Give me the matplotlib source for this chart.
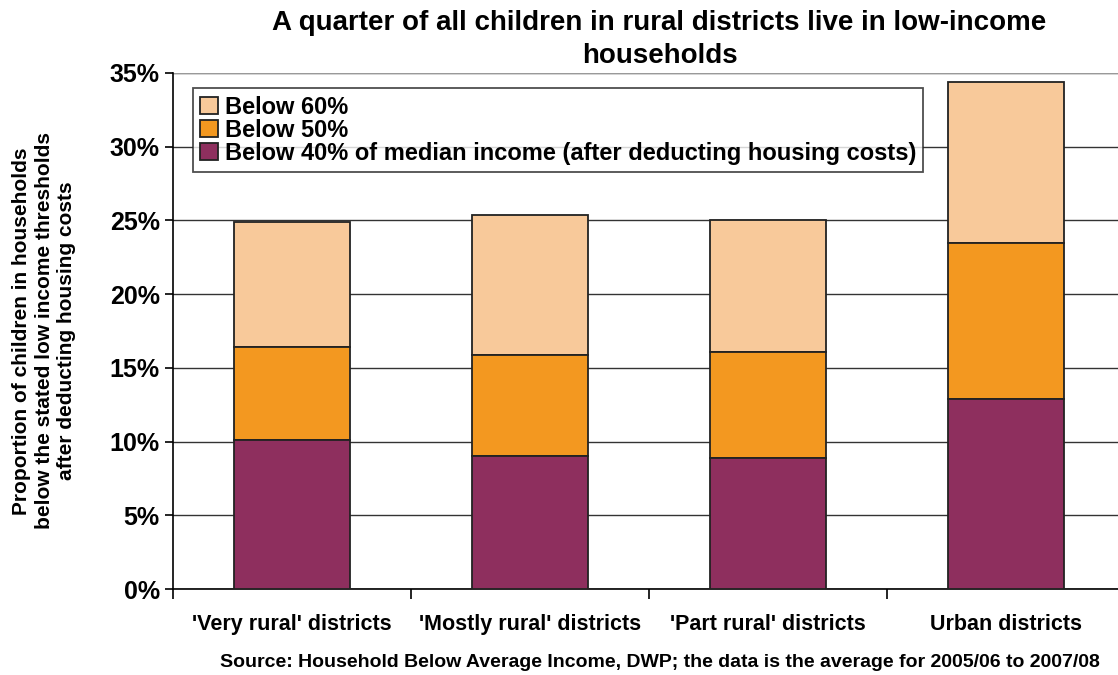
import numpy as np
import matplotlib.pyplot as plt
from matplotlib.ticker import FixedLocator, PercentFormatter

plt.rcParams['font.family'] = ['Liberation Sans', 'DejaVu Sans']
plt.rcParams['font.weight'] = 'bold'

''' --->> Data <<--- '''
districts = ["'Very rural' districts", "'Mostly rural' districts",
             "'Part rural' districts", "Urban districts"]
below_40 = [10.1, 9.0, 8.9, 12.9]
below_50 = [16.4, 15.9, 16.1, 23.5]
below_60 = [24.9, 25.4, 25.0, 34.4]
labels = ['Below 60%', 'Below 50%',
          'Below 40% of median income (after deducting housing costs)']
colors = ['#F8C99A', '#F39820', '#8E2F5E']

''' --->> Plot <<--- '''
fig = plt.figure(figsize=(11.18, 6.75), dpi=100)
ax = fig.add_axes([0.1547, 0.1274, 0.8453, 0.7645])

x = np.arange(len(districts))
w = 0.49
# stacked as differences so each segment reaches the stated threshold
b40 = np.array(below_40)
b50 = np.array(below_50) - b40
b60 = np.array(below_60) - np.array(below_50)
kw = dict(width=w, edgecolor='#222222', linewidth=1.3, zorder=3)
h60 = ax.bar(x, b60, bottom=np.array(below_50), color=colors[0], **kw)
h50 = ax.bar(x, b50, bottom=b40, color=colors[1], **kw)
h40 = ax.bar(x, b40, color=colors[2], **kw)

ax.set_ylim(0, 35)
ax.set_xlim(-0.5, 3.47)
ax.set_yticks(np.arange(0, 36, 5))
ax.yaxis.set_major_formatter(PercentFormatter(decimals=0))
ax.yaxis.grid(True, color='#333333', linewidth=1.0, zorder=0)
ax.set_axisbelow(True)
for s in ['top', 'right']:
    ax.spines[s].set_visible(False)
ax.spines['left'].set_linewidth(1.2)
ax.spines['bottom'].set_linewidth(1.2)
ax.axhline(35, color='#999999', linewidth=1.5, zorder=1)

ax.set_xticks(x)
ax.set_xticklabels(districts, fontsize=15.5)
ax.tick_params(axis='x', length=0, pad=18)
ax.xaxis.set_minor_locator(FixedLocator(np.arange(-0.5, 3.6, 1)))
ax.tick_params(axis='x', which='minor', length=7, width=1.2, direction='out')
ax.tick_params(axis='y', length=6, width=1.2, direction='out', labelsize=18)

ax.set_ylabel('Proportion of children in households\n'
              'below the stated low income thresholds\n'
              'after deducting housing costs', fontsize=15,
              fontweight='bold', labelpad=24, linespacing=1.25)

leg = ax.legend([h60, h50, h40], labels, loc='upper left',
                bbox_to_anchor=(0.021, 0.97), fontsize=17, frameon=True,
                fancybox=False, edgecolor='#222222', handlelength=0.75,
                handleheight=0.75, handletextpad=0.3, labelspacing=0.0,
                borderpad=0.3, borderaxespad=0)
leg.get_frame().set_linewidth(1.3)

fig.text(0.59, 0.985, 'A quarter of all children in rural districts live in low-income\nhouseholds',
         ha='center', va='top', fontsize=20, linespacing=1.35)
fig.text(0.59, 0.006, 'Source: Household Below Average Income, DWP; the data is the average for 2005/06 to 2007/08',
         ha='center', va='bottom', fontsize=14)

fig.savefig('out.png', dpi=100)
